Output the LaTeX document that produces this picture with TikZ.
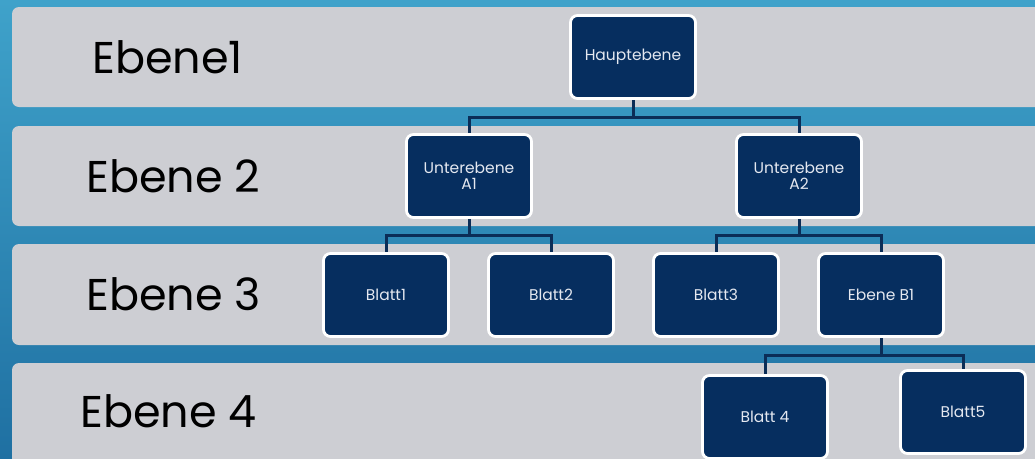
\documentclass[tikz,border=0pt]{standalone}
\usepackage{fontspec}
\setmainfont{Poppins}
\definecolor{bgtop}{HTML}{3FA2CA}
\definecolor{bgbot}{HTML}{1F70A2}
\definecolor{bandgray}{HTML}{CDCED3}
\definecolor{navy}{HTML}{062E5F}
\definecolor{linkblue}{HTML}{0B2D57}
\definecolor{nodetext}{HTML}{E4E8F0}
\pgfdeclarelayer{bg}
\pgfsetlayers{bg,main}
\begin{document}
\begin{tikzpicture}[x=1pt,y=-1pt,
  band/.style={fill=bandgray, rounded corners=7pt},
  lvl/.style={font=\fontsize{44.5}{50}\selectfont, text=black, anchor=base west, inner sep=0},
  box/.style={draw=white, line width=2.8pt, fill=navy, rounded corners=7pt,
    minimum width=125pt, minimum height=83pt, text=nodetext,
    font=\fontsize{15.5}{16}\selectfont, align=center, inner sep=0},
  link/.style={draw=linkblue, line width=3pt}]
\useasboundingbox (0,0) rectangle (1035,458);
% nodes
\node[box] (H) at (633,57) {Hauptebene};
\node[box] (A1) at (469,176) {Unterebene\\A1};
\node[box] (A2) at (799,176) {Unterebene\\A2};
\node[box] (L1) at (386,295) {Blatt1};
\node[box] (L2) at (551,295) {Blatt2};
\node[box] (L3) at (716,295) {Blatt3};
\node[box] (B1) at (881,295) {Ebene B1};
\node[box] (L4) at (765,417) {Blatt 4};
\node[box] (L5) at (963,412) {Blatt5};
% level labels
\node[lvl] (E1) at (92,73) {Ebene1};
\node[lvl] (E2) at (86,192) {Ebene 2};
\node[lvl] (E3) at (86,310) {Ebene 3};
\node[lvl] (E4) at (80,427) {Ebene 4};
\begin{pgfonlayer}{bg}
\begin{scope}
\clip (0,0) rectangle (1035,458);
\shade[top color=bgtop, bottom color=bgbot] (0,0) rectangle (1035,458);
\fill[band] (12,7) rectangle (1050,107);
\fill[band] (12,126) rectangle (1050,226);
\fill[band] (12,244) rectangle (1050,345);
\fill[band] (12,363) rectangle (1050,480);
\end{scope}
\draw[link] (H.south) -- (H.south |- 0,117) -| (A1.north);
\draw[link] (H.south |- 0,117) -| (A2.north);
\draw[link] (A1.south) -- (A1.south |- 0,235) -| (L1.north);
\draw[link] (A1.south |- 0,235) -| (L2.north);
\draw[link] (A2.south) -- (A2.south |- 0,235) -| (L3.north);
\draw[link] (A2.south |- 0,235) -| (B1.north);
\draw[link] (B1.south) -- (B1.south |- 0,355) -| (L4.north);
\draw[link] (B1.south |- 0,355) -| (L5.north);
\end{pgfonlayer}
\end{tikzpicture}
\end{document}
